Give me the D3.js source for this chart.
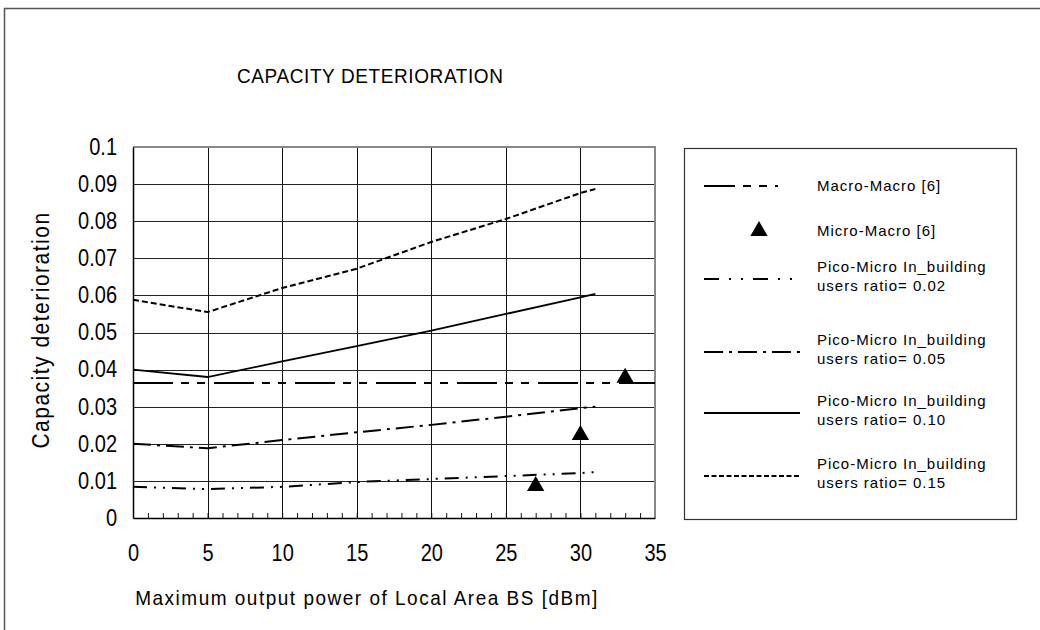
<!DOCTYPE html>
<html>
<head>
<meta charset="utf-8">
<script src="https://cdn.jsdelivr.net/npm/d3@7"></script>
<style>
  body { margin: 0; background: #fff; }
  svg { display: block; font-family: "Liberation Sans", Arial, sans-serif; }
</style>
</head>
<body>
<div id="container"></div>
<script>
// data
const xPower = [0, 5, 10, 15, 20, 25, 30, 31];
const ratio002 = [0.0084, 0.0078, 0.0084, 0.0097, 0.0105, 0.0113, 0.0121, 0.0124];
const ratio005 = [0.0200, 0.0188, 0.0210, 0.0231, 0.0251, 0.0273, 0.0296, 0.0300];
const ratio010 = [0.0400, 0.0380, 0.0422, 0.0463, 0.0505, 0.0550, 0.0595, 0.0604];
const ratio015 = [0.0588, 0.0555, 0.0620, 0.0672, 0.0744, 0.0806, 0.0876, 0.0887];
const macroX = [0, 35];
const macroY = [0.0364, 0.0364];
const microX = [27, 30, 33];
const microY = [0.0086, 0.0224, 0.0378];
const xTicks = [0, 5, 10, 15, 20, 25, 30, 35];
const yTicks = [0, 0.01, 0.02, 0.03, 0.04, 0.05, 0.06, 0.07, 0.08, 0.09, 0.1];
const yTickLabels = ['0', '0.01', '0.02', '0.03', '0.04', '0.05', '0.06', '0.07', '0.08', '0.09', '0.1'];

const width = 1040;
const height = 630;
const plot = { left: 133, top: 147, right: 655, bottom: 518 };

const svg = d3.select('#container')
  .append('svg')
  .attr('width', width)
  .attr('height', height);

// outer frame
svg.append('rect')
  .attr('x', 4.5).attr('y', 8.5)
  .attr('width', 1100).attr('height', 700)
  .attr('fill', 'none')
  .attr('stroke', '#555')
  .attr('stroke-width', 1.5);

svg.append('text')
  .attr('transform', 'translate(237,83) scale(1,1.1)')
  .attr('font-size', 19)
  .attr('letter-spacing', 0.6)
  .text('CAPACITY DETERIORATION');

const x = d3.scaleLinear().domain([0, 35]).range([plot.left, plot.right]);
const y = d3.scaleLinear().domain([0, 0.1]).range([plot.bottom, plot.top]);

// grid
const grid = svg.append('g');
grid.selectAll('.hg')
  .data(yTicks.slice(1, -1))
  .enter().append('line')
  .attr('x1', plot.left).attr('x2', plot.right)
  .attr('y1', d => Math.round(y(d)) + 0.5).attr('y2', d => Math.round(y(d)) + 0.5)
  .attr('stroke', '#222');
grid.selectAll('.vg')
  .data(xTicks.slice(1, -1))
  .enter().append('line')
  .attr('x1', d => Math.round(x(d)) + 0.5).attr('x2', d => Math.round(x(d)) + 0.5)
  .attr('y1', plot.top).attr('y2', plot.bottom)
  .attr('stroke', '#111');

// top and right border (gray)
svg.append('path')
  .attr('d', `M${plot.left},${plot.top}H${plot.right}V${plot.bottom}`)
  .attr('fill', 'none')
  .attr('stroke', '#888')
  .attr('stroke-width', 2);

// minor ticks on the bottom axis
svg.append('g')
  .attr('transform', `translate(0,${plot.bottom})`)
  .call(d3.axisTop(x).tickValues(d3.range(1, 35)).tickSize(5).tickFormat(''))
  .call(g => g.select('.domain').remove())
  .selectAll('line').attr('stroke', '#111');

// axes
svg.append('g')
  .attr('transform', `translate(0,${plot.bottom})`)
  .call(d3.axisBottom(x).tickValues(xTicks).tickSize(0).tickPadding(23))
  .call(g => g.select('.domain').attr('stroke', '#000').attr('stroke-width', 1.5))
  .selectAll('text')
  .attr('font-size', 20)
  .attr('font-family', '"Liberation Sans", Arial, sans-serif')
  .attr('fill', '#000')
  .attr('transform', 'scale(1,1.15)');

svg.append('g')
  .attr('transform', `translate(${plot.left},0)`)
  .call(d3.axisLeft(y).tickValues(yTicks).tickSize(0).tickPadding(16)
    .tickFormat((d, i) => yTickLabels[i]))
  .call(g => g.select('.domain').attr('stroke', '#000').attr('stroke-width', 1.5))
  .selectAll('text')
  .attr('font-size', 20)
  .attr('font-family', '"Liberation Sans", Arial, sans-serif')
  .attr('fill', '#000')
  .attr('transform', 'scale(1,1.15)');

svg.append('text')
  .attr('transform', `translate(49,330) rotate(-90) scale(1,1.1)`)
  .attr('text-anchor', 'middle')
  .attr('font-size', 21)
  .attr('letter-spacing', 1.5)
  .text('Capacity deterioration');

svg.append('text')
  .attr('transform', 'translate(367,605) scale(1,1.1)')
  .attr('text-anchor', 'middle')
  .attr('font-size', 19)
  .attr('letter-spacing', 1.5)
  .text('Maximum output power of Local Area BS [dBm]');

// series
const series = [
  { xs: macroX, ys: macroY, dash: '40,8,8,8,8,9', legendDash: '31,8,8,8,8,8,3,100', w: 2 },
  { xs: xPower, ys: ratio002, dash: '14,7,2,7,2,7', legendDash: '15,10,2,10,2,10', w: 2 },
  { xs: xPower, ys: ratio005, dash: '18,6,3,6', legendDash: '19,6,3,6', w: 2 },
  { xs: xPower, ys: ratio010, dash: null, legendDash: null, w: 1.8 },
  { xs: xPower, ys: ratio015, dash: '6,3', legendDash: '5,2.5', w: 2 }
];

const line = d3.line().x(d => x(d[0])).y(d => y(d[1]));

svg.append('g').selectAll('path')
  .data(series)
  .enter().append('path')
  .attr('d', s => line(s.xs.map((v, i) => [v, s.ys[i]])))
  .attr('fill', 'none')
  .attr('stroke', '#000')
  .attr('stroke-width', s => s.w)
  .attr('stroke-dasharray', s => s.dash);

const tri = d3.symbol().type(d3.symbolTriangle).size(130);
svg.append('g').selectAll('path')
  .data(microX.map((v, i) => [v, microY[i]]))
  .enter().append('path')
  .attr('transform', d => `translate(${x(d[0])},${y(d[1])})`)
  .attr('d', tri)
  .attr('fill', '#000');

// legend
const legend = svg.append('g');
legend.append('rect')
  .attr('x', 684.5).attr('y', 148.5)
  .attr('width', 332).attr('height', 371)
  .attr('fill', '#fff')
  .attr('stroke', '#333')
  .attr('stroke-width', 1.2);

const legendItems = [
  { s: series[0], lines: ['Macro-Macro [6]'], y: 186 },
  { marker: true, lines: ['Micro-Macro [6]'], y: 231 },
  { s: series[1], lines: ['Pico-Micro In_building', 'users ratio= 0.02'], y: 279 },
  { s: series[2], lines: ['Pico-Micro In_building', 'users ratio= 0.05'], y: 352 },
  { s: series[3], lines: ['Pico-Micro In_building', 'users ratio= 0.10'], y: 413 },
  { s: series[4], lines: ['Pico-Micro In_building', 'users ratio= 0.15'], y: 476 }
];

legendItems.forEach(item => {
  if (item.marker) {
    legend.append('path')
      .attr('transform', `translate(759,${item.y})`)
      .attr('d', tri)
      .attr('fill', '#000');
  } else {
    legend.append('line')
      .attr('x1', 704).attr('x2', 800)
      .attr('y1', item.y).attr('y2', item.y)
      .attr('stroke', '#000')
      .attr('stroke-width', item.s.w)
      .attr('stroke-dasharray', item.s.legendDash);
  }
  const t = legend.append('text')
    .attr('font-size', 15)
    .attr('letter-spacing', 1);
  const n = item.lines.length;
  item.lines.forEach((txt, i) => {
    t.append('tspan')
      .attr('x', 817)
      .attr('y', item.y + 5 + (i - (n - 1) / 2) * 19 - (n > 1 ? 3 : 0))
      .text(txt);
  });
});
</script>
</body>
</html>
